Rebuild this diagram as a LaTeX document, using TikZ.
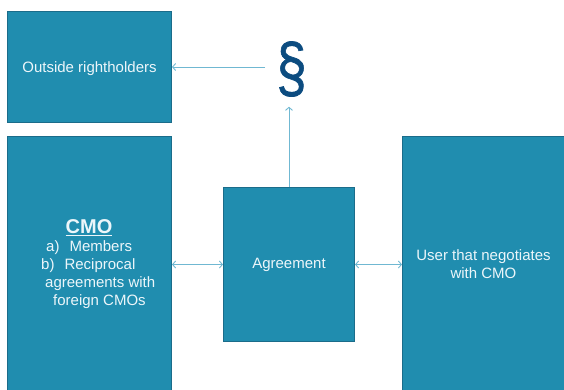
\documentclass[tikz,border=0pt]{standalone}
\usepackage{fontspec}
\setmainfont{Liberation Sans}
\newfontface\sectfont{Liberation Sans}[FakeBold=1]
\usetikzlibrary{arrows.meta}
\definecolor{boxfill}{RGB}{32,141,175}
\definecolor{boxline}{RGB}{27,108,138}
\definecolor{boxtext}{RGB}{236,246,250}
\definecolor{linkblue}{RGB}{112,184,210}
\definecolor{sectblue}{RGB}{12,76,128}
\tikzset{
  panel/.style={draw=boxline, line width=1pt, fill=boxfill, rectangle, inner sep=0pt},
  label/.style={text=boxtext, font=\fontsize{15}{18}\selectfont, inner sep=0pt},
  link/.style={draw=linkblue, line width=0.9pt, -{Straight Barb[length=3pt,width=7pt]}},
  dlink/.style={draw=linkblue, line width=0.9pt, {Straight Barb[length=3pt,width=7pt]}-{Straight Barb[length=3pt,width=7pt]}}
}
\begin{document}
\begin{tikzpicture}[x=1pt,y=-1pt]
\clip (0,0) rectangle (564,389);
% boxes
\node[panel, minimum width=164pt, minimum height=111pt, anchor=north west] (out) at (7,11) {};
\node[panel, minimum width=164pt, minimum height=270pt, anchor=north west] (cmo) at (7,136) {};
\node[panel, minimum width=131pt, minimum height=154pt, anchor=north west] (agr) at (223,187) {};
\node[panel, minimum width=175pt, minimum height=270pt, anchor=north west] (user) at (402,136) {};
% texts
\node[label] (outtxt) at ([yshift=-1.5pt]out.center) {Outside rightholders};
\node[label, align=left, anchor=north west] (cmotxt) at (41,219) {%
  \hspace*{24.5pt}{\fontsize{20}{18}\selectfont\bfseries\underline{CMO}}\\
  \hspace*{5pt}a)\hspace{10pt}Members\\
  b)\hspace{10pt}Reciprocal\\
  \hspace*{4pt}agreements with\\
  \hspace*{12pt}foreign CMOs};
\node[label] (agrtxt) at (agr.center) {Agreement};
\node[label, align=center] (usertxt) at (483.5,264) {User that negotiates\\with CMO};
% paragraph sign
\node[text=sectblue, font=\sectfont\fontsize{62}{62}\selectfont, inner sep=0pt] (sect) at (291.5,69) {\scalebox{0.88}[1.1]{§}};
% connectors
\draw[link] ([xshift=-11pt]sect.west |- out.east) -- (out.east);
\draw[link, shorten >=10pt] (agr.north) -- (agr.north |- sect.south);
\draw[dlink] (agr.west -| cmo.east) -- (agr.west);
\draw[dlink] (agr.east) -- (agr.east -| user.west);
\end{tikzpicture}
\end{document}
